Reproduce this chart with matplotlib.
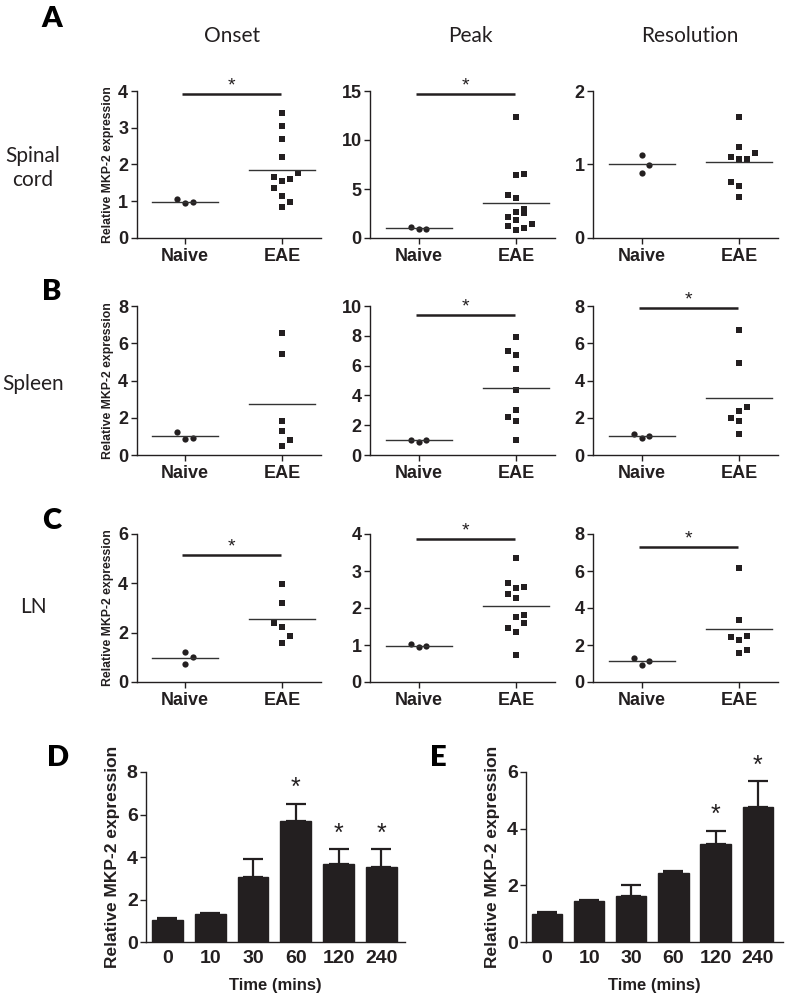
import matplotlib
matplotlib.use("Agg")
import matplotlib.pyplot as plt
import numpy as np

W, H = 787, 1005

# ---------------- data ----------------
groups = ["Naive", "EAE"]
stages = ["Onset", "Peak", "Resolution"]
tissues = ["Spinal\ncord", "Spleen", "LN"]

sc_onset_naive = [1.05, 0.94, 0.98]
sc_onset_naive_slot = [-1, 0, 1]
sc_onset_eae = [3.41, 3.05, 2.70, 2.20, 1.78, 1.65, 1.60, 1.56, 1.36, 1.14, 0.99, 0.84]
sc_onset_eae_slot = [0, 0, 0, 0, 2, -1, 1, 0, -1, 0, 1, 0]

sc_peak_naive = [1.08, 0.92, 0.95]
sc_peak_naive_slot = [-1, 0, 1]
sc_peak_eae = [12.3, 6.5, 6.44, 4.38, 4.08, 2.97, 2.70, 2.56, 2.19, 1.79, 1.38, 1.18, 1.04, 0.78]
sc_peak_eae_slot = [0, 1, 0, -1, 0, 1, 0, 1, -1, 0, 2, -1, 1, 0]

sc_res_naive = [1.13, 0.99, 0.89]
sc_res_naive_slot = [0, 1, 0]
sc_res_eae = [1.65, 1.24, 1.16, 1.10, 1.08, 1.07, 0.76, 0.71, 0.56]
sc_res_eae_slot = [0, 0, 2, -1, 1, 0, -1, 0, 0]

sp_onset_naive = [1.26, 0.86, 0.90]
sp_onset_naive_slot = [-1, 0, 1]
sp_onset_eae = [6.57, 5.44, 1.83, 1.28, 0.81, 0.49]
sp_onset_eae_slot = [0, 0, 0, 0, 1, 0]

sp_peak_naive = [1.04, 0.89, 1.00]
sp_peak_naive_slot = [-1, 0, 1]
sp_peak_eae = [7.93, 7.00, 6.71, 5.76, 4.38, 3.00, 2.56, 2.27, 1.00]
sp_peak_eae_slot = [0, -1, 0, 0, 0, 0, -1, 0, 0]

sp_res_naive = [1.11, 0.93, 1.02]
sp_res_naive_slot = [-1, 0, 1]
sp_res_eae = [6.71, 4.92, 2.59, 2.38, 2.00, 1.82, 1.11]
sp_res_eae_slot = [0, 0, 1, 0, -1, 0, 0]

ln_onset_naive = [1.21, 1.00, 0.72]
ln_onset_naive_slot = [0, 1, 0]
ln_onset_eae = [3.98, 3.21, 2.41, 2.24, 1.87, 1.60]
ln_onset_eae_slot = [0, 0, -1, 0, 1, 0]

ln_peak_naive = [1.03, 0.94, 0.98]
ln_peak_naive_slot = [-1, 0, 1]
ln_peak_eae = [3.36, 2.67, 2.58, 2.55, 2.39, 2.28, 1.82, 1.76, 1.60, 1.46, 1.36, 0.73]
ln_peak_eae_slot = [0, -1, 1, 0, -1, 0, 1, 0, 1, -1, 0, 0]

ln_res_naive = [1.29, 0.91, 1.14]
ln_res_naive_slot = [-1, 0, 1]
ln_res_eae = [6.16, 3.36, 2.48, 2.45, 2.27, 1.75, 1.57]
ln_res_eae_slot = [0, 0, 1, -1, 0, 1, 0]

# y-axis max / tick step per panel, significance bar height (None = not significant)
ymax = [[4, 15, 2], [8, 10, 8], [6, 4, 8]]
ystep = [[1, 5, 1], [2, 2, 2], [2, 1, 2]]
sig_y = [[3.93, 14.7, None], [None, 9.4, 7.9], [5.14, 3.86, 7.3]]

time_labels = ["0", "10", "30", "60", "120", "240"]
d_mean = [1.02, 1.32, 3.04, 5.69, 3.67, 3.53]
d_err = [0.11, 0.06, 0.85, 0.82, 0.71, 0.85]
d_sig = [False, False, False, True, True, True]
e_mean = [1.00, 1.45, 1.61, 2.45, 3.46, 4.78]
e_err = [0.05, 0.03, 0.39, 0.04, 0.47, 0.90]
e_sig = [False, False, False, False, True, True]

panels = [
    [(sc_onset_naive, sc_onset_naive_slot, sc_onset_eae, sc_onset_eae_slot),
     (sc_peak_naive, sc_peak_naive_slot, sc_peak_eae, sc_peak_eae_slot),
     (sc_res_naive, sc_res_naive_slot, sc_res_eae, sc_res_eae_slot)],
    [(sp_onset_naive, sp_onset_naive_slot, sp_onset_eae, sp_onset_eae_slot),
     (sp_peak_naive, sp_peak_naive_slot, sp_peak_eae, sp_peak_eae_slot),
     (sp_res_naive, sp_res_naive_slot, sp_res_eae, sp_res_eae_slot)],
    [(ln_onset_naive, ln_onset_naive_slot, ln_onset_eae, ln_onset_eae_slot),
     (ln_peak_naive, ln_peak_naive_slot, ln_peak_eae, ln_peak_eae_slot),
     (ln_res_naive, ln_res_naive_slot, ln_res_eae, ln_res_eae_slot)],
]

# ---------------- style ----------------
NARROW = ["Liberation Sans Narrow", "Liberation Sans", "DejaVu Sans"]
ARIAL = ["Liberation Sans", "DejaVu Sans"]
TITLE = ["Lato", "Open Sans", "DejaVu Sans"]
INK = "#231f20"

plt.rcParams["axes.linewidth"] = 1.0
plt.rcParams["xtick.major.width"] = 1.0
plt.rcParams["ytick.major.width"] = 1.0

fig = plt.figure(figsize=(W / 100, H / 100), dpi=100)


def add_ax(l, t, r, b):
    return fig.add_axes([l / W, 1 - b / H, (r - l) / W, (b - t) / H])


def style_ax(ax, labelsize, family):
    for s in ["top", "right"]:
        ax.spines[s].set_visible(False)
    for s in ["left", "bottom"]:
        ax.spines[s].set_color(INK)
    ax.tick_params(axis="both", direction="out", length=4, color=INK, pad=2)
    for lab in ax.get_xticklabels() + ax.get_yticklabels():
        lab.set_fontfamily(family)
        lab.set_fontweight("bold")
        lab.set_fontsize(labelsize)
        lab.set_color(INK)


col_lr = [(136.5, 321), (370, 555), (593, 778)]
row_tb = [(91, 238), (306, 455), (534, 682)]
slot_w = 0.08
half = 0.34

for r in range(3):
    for c in range(3):
        l, rr = col_lr[c]
        t, b = row_tb[r]
        ax = add_ax(l, t, rr, b)
        nv, ns, ev, es = panels[r][c]
        ax.plot(np.array(ns) * slot_w + 0, nv, "o", ms=4.5, color=INK, mew=0)
        ax.plot(np.array(es) * slot_w + 1, ev, "s", ms=4.5, color=INK, mew=0)
        for xi, vals in [(0, nv), (1, ev)]:
            m = np.mean(vals)
            ax.plot([xi - half, xi + half], [m, m], color="#333333", lw=1.0)
        if sig_y[r][c] is not None:
            sy = sig_y[r][c]
            ax.plot([-0.03, 0.99], [sy, sy], color=INK, lw=1.8, solid_capstyle="butt")
            ax.text(0.48, sy - ymax[r][c] * 0.005, "*", ha="center", va="bottom",
                    fontsize=14, color=INK, family=ARIAL)
        ax.set_xlim(-0.5, 1.4)
        ax.set_ylim(0, ymax[r][c])
        ax.set_yticks(np.arange(0, ymax[r][c] + 0.001, ystep[r][c]))
        ax.set_xticks([0, 1])
        ax.set_xticklabels(groups)
        ax.spines["left"].set_bounds(0, ymax[r][c])
        style_ax(ax, 13, NARROW)
        ax.tick_params(axis="x", pad=3)
        if c == 0:
            ax.set_ylabel("Relative MKP-2 expression", fontsize=8.8, fontweight="bold",
                          family=ARIAL, color=INK, labelpad=3)

# column titles and row labels
for x, s in zip([232, 470, 690], stages):
    fig.text(x / W, 1 - 36 / H, s, ha="center", va="center", fontsize=15, family=TITLE, color=INK)
for y, s in zip([168, 384, 607], tissues):
    fig.text(33 / W, 1 - y / H, s, ha="center", va="center", fontsize=15, family=TITLE,
             color=INK, linespacing=1.3)
for (x, y), s in zip([(52, 19), (52, 292), (52, 521), (58, 758), (438, 758)], "ABCDE"):
    fig.text(x / W, 1 - y / H, s, ha="center", va="center", fontsize=21, fontweight="heavy",
             family=TITLE, color="black")


def bar_panel(l, t, r, b, means, errs, sig, ymax_, xmax):
    ax = add_ax(l, t, r, b)
    x = np.arange(len(means))
    ax.bar(x, means, width=0.72, color=INK, edgecolor=INK, zorder=2)
    ax.errorbar(x, means, yerr=[np.zeros(len(means)), errs], fmt="none", ecolor=INK,
                elinewidth=1.6, capsize=7, capthick=1.6, zorder=1)
    for xi, m, e, s in zip(x, means, errs, sig):
        if s:
            ax.text(xi, m + e + ymax_ * 0.02, "*", ha="center", va="bottom", fontsize=18,
                    color=INK, family=ARIAL)
    ax.set_xlim(-0.5, xmax)
    ax.set_ylim(0, ymax_)
    ax.set_yticks(np.arange(0, ymax_ + 0.001, 2))
    ax.set_xticks(x)
    ax.set_xticklabels(time_labels)
    ax.spines["left"].set_bounds(0, ymax_)
    style_ax(ax, 14, ARIAL)
    ax.tick_params(axis="x", length=0, pad=6)
    ax.set_ylabel("Relative MKP-2 expression", fontsize=12.5, fontweight="bold",
                  family=ARIAL, color=INK, labelpad=5)
    ax.set_xlabel("Time (mins)", fontsize=12, fontweight="bold", family=ARIAL,
                  color=INK, labelpad=8)
    return ax


bar_panel(146, 772, 405, 942, d_mean, d_err, d_sig, 8, 5.55)
bar_panel(526, 772, 783, 942, e_mean, e_err, e_sig, 6, 5.6)

fig.savefig("out.png", dpi=100)
